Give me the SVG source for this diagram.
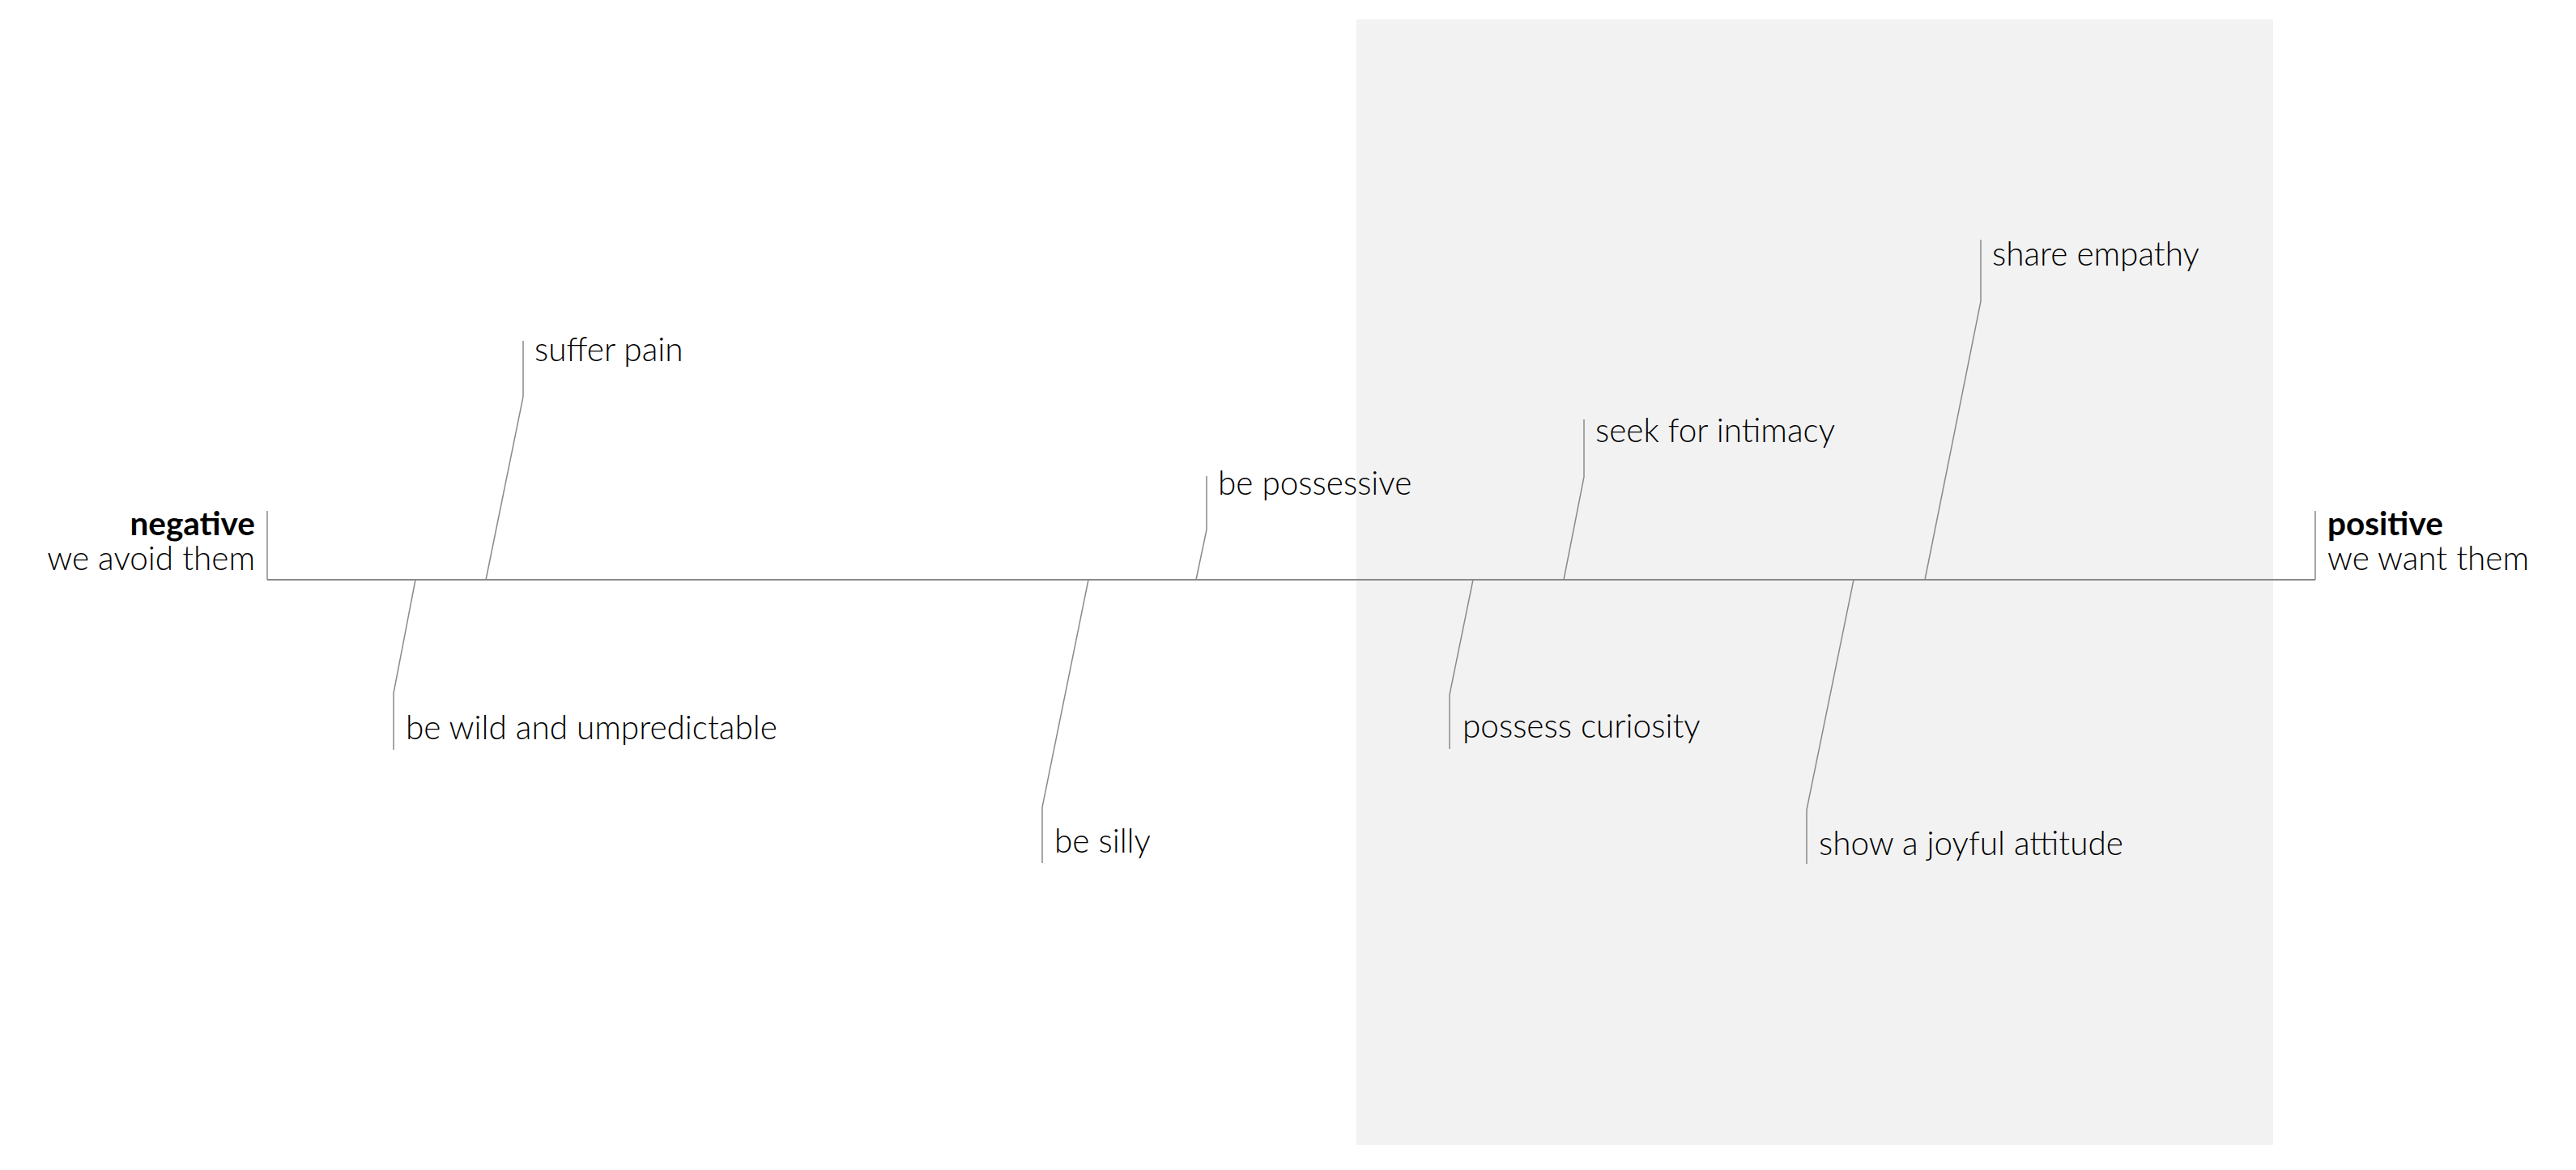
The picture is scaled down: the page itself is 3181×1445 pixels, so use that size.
<svg xmlns="http://www.w3.org/2000/svg" width="3181" height="1445" viewBox="0 0 3181 1445">
<style>
.lbl{font-family:Lato,"Open Sans","Liberation Sans",sans-serif;font-weight:300;font-size:40.5px;fill:#000}
.head{font-family:Lato,"Open Sans","Liberation Sans",sans-serif;font-weight:700;font-size:40.5px;fill:#000}
.bone{fill:none;stroke:#8a8a8a;stroke-width:1.5}
.spine{fill:none;stroke:#8a8a8a;stroke-width:2}
</style>
<rect x="0" y="0" width="3181" height="1445" fill="#ffffff"/>
<rect id="positive-zone" x="1675" y="24" width="1132" height="1390" fill="#f2f2f2"/>
<g id="connectors">
<line class="spine" x1="330" y1="716" x2="2859" y2="716"/>
<polyline class="bone" points="330,716 330,631"/>
<polyline class="bone" points="2859,716 2859,631"/>
<polyline class="bone" points="600,716 646,490 646,421"/>
<polyline class="bone" points="513,716 486,856 486,926"/>
<polyline class="bone" points="1477,716 1490,654 1490,588"/>
<polyline class="bone" points="1344,716 1287,997 1287,1066"/>
<polyline class="bone" points="1931,716 1956,589 1956,518"/>
<polyline class="bone" points="1819,716 1790,858 1790,925"/>
<polyline class="bone" points="2377,716 2446,372 2446,296"/>
<polyline class="bone" points="2289,716 2231,1000 2231,1067"/>
</g>
<g id="negative">
<text class="head" x="315" y="661" text-anchor="end">negative</text>
<text class="lbl" x="315" y="704" text-anchor="end">we avoid them</text>
</g>
<g id="positive">
<text class="head" x="2874" y="661">positive</text>
<text class="lbl" x="2874" y="704">we want them</text>
</g>
<g id="suffer-pain"><text class="lbl" x="660" y="446">suffer pain</text></g>
<g id="be-wild"><text class="lbl" x="501" y="913">be wild and umpredictable</text></g>
<g id="be-possessive"><text class="lbl" x="1504" y="611">be possessive</text></g>
<g id="be-silly"><text class="lbl" x="1302" y="1053">be silly</text></g>
<g id="seek-intimacy"><text class="lbl" x="1970" y="546">seek for intimacy</text></g>
<g id="possess-curiosity"><text class="lbl" x="1806" y="911">possess curiosity</text></g>
<g id="share-empathy"><text class="lbl" x="2460" y="328">share empathy</text></g>
<g id="joyful"><text class="lbl" x="2246" y="1056">show a joyful attitude</text></g>
</svg>
